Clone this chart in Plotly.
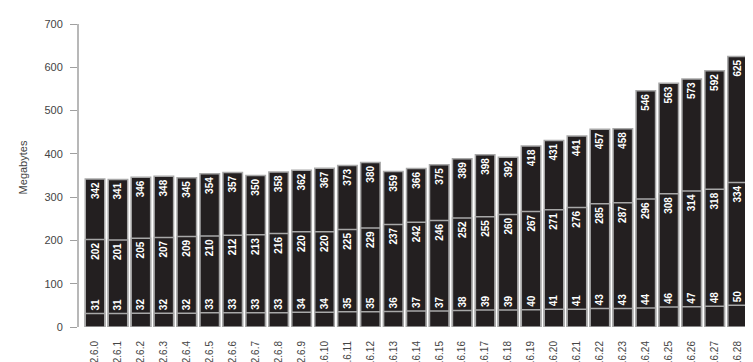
import plotly.graph_objects as go

versions = ["2.6.%d" % i for i in range(30)]

# bottom line value of each bar
low = [31, 31, 32, 32, 32, 33, 33, 33, 33, 34, 34, 35, 35, 36, 37,
       37, 38, 39, 39, 40, 41, 41, 43, 43, 44, 46, 47, 48, 50, 53]
# middle line value
mid = [202, 201, 205, 207, 209, 210, 212, 213, 216, 220, 220, 225, 229, 237, 242,
       246, 252, 255, 260, 267, 271, 276, 285, 287, 296, 308, 314, 318, 334, 361]
# total height
total = [342, 341, 346, 348, 345, 354, 357, 350, 358, 362, 367, 373, 380, 359, 366,
         375, 389, 398, 392, 418, 431, 441, 457, 458, 546, 563, 573, 592, 625, 722]

bar_fill = "#231f20"
bar_edge = "#a8a8a8"
label_font = dict(family="Liberation Sans, Arial, sans-serif", size=10, color="white")

fig = go.Figure()


def add_bar(values, text=None, anchor="end", base=None, visible_bar=True):
    fig.add_trace(go.Bar(
        x=versions,
        y=values,
        base=base,
        text=text,
        textposition="inside" if text is not None else "none",
        insidetextanchor=anchor,
        textangle=-90,
        textfont=label_font,
        constraintext="none",
        marker=dict(color=bar_fill if visible_bar else "rgba(0,0,0,0)",
                    line=dict(color=bar_edge if visible_bar else "rgba(0,0,0,0)",
                              width=1.5 if visible_bar else 0)),
        hoverinfo="skip",
        showlegend=False,
    ))


# overlaid bars, biggest first
add_bar(total, text=["<b>%d</b>" % v for v in total], anchor="end")
add_bar(mid, text=["<b>%d</b>" % v for v in mid], anchor="end")
add_bar(low)
# transparent bar just for the lower label sitting above the low line
add_bar([m - l for m, l in zip(mid, low)], text=["<b>%d</b>" % v for v in low],
        anchor="start", base=low, visible_bar=False)

# R style axis line only from 0 to 700
fig.add_shape(type="line", xref="paper", x0=0, x1=0, yref="y", y0=0, y1=700,
              line=dict(color="#a0a0a0", width=1.5))

fig.update_layout(
    barmode="overlay",
    bargap=0.15,
    width=753,
    height=362,
    margin=dict(l=70, r=0, t=0, b=43),
    plot_bgcolor="white",
    paper_bgcolor="white",
    font=dict(family="Liberation Sans, Arial, sans-serif", color="#333333"),
    xaxis=dict(
        range=[-0.741, 29.02],
        automargin=False,
        tickangle=-90,
        tickfont=dict(size=10, color="#444444"),
        ticks="outside",
        ticklen=9,
        tickcolor="rgba(0,0,0,0)",
        showgrid=False,
        showline=False,
        zeroline=False,
    ),
    yaxis=dict(
        range=[0, 737],
        automargin=False,
        tickvals=[0, 100, 200, 300, 400, 500, 600, 700],
        tickfont=dict(size=11, color="#444444"),
        ticks="outside",
        ticklen=7,
        tickwidth=1.2,
        tickcolor="#a0a0a0",
        ticklabelstandoff=5,
        showgrid=False,
        showline=False,
        zeroline=False,
        title=dict(text="Megabytes", font=dict(size=11, color="#444444"), standoff=14),
    ),
)

fig.write_html("out.html")
